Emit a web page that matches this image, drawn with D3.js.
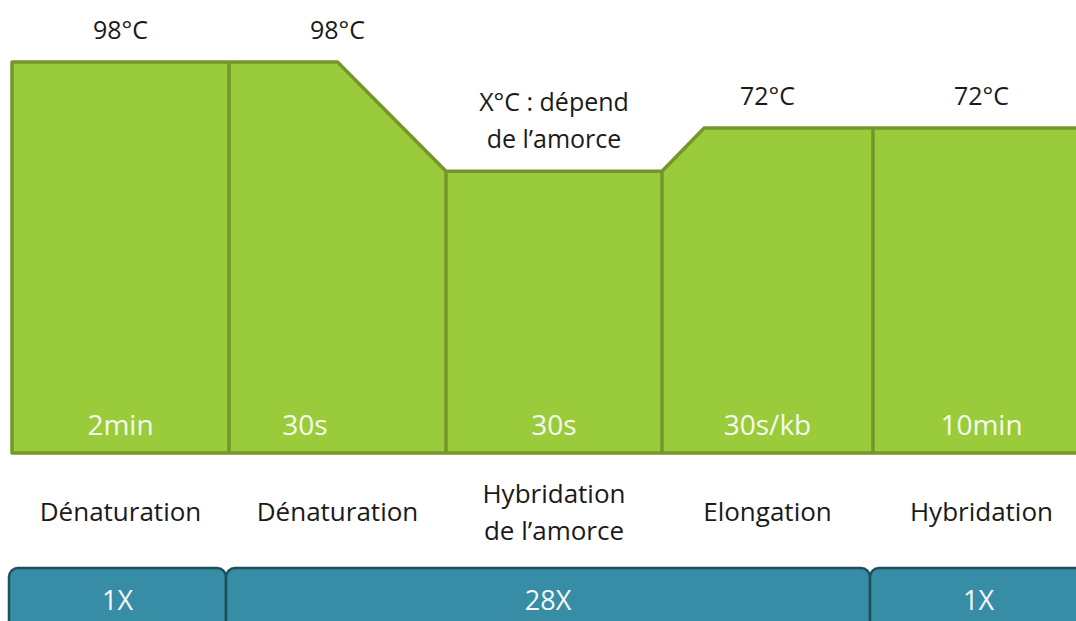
<!DOCTYPE html>
<html>
<head>
<meta charset="utf-8">
<script src="https://cdn.jsdelivr.net/npm/d3@7"></script>
<style>
  body { margin: 0; background: #fff; overflow: hidden; }
  svg text { font-family: "Open Sans", sans-serif; }
</style>
</head>
<body>
<div id="pcr"></div>
<script>
// steps of the PCR program
var temps = ["98°C", "98°C", "X°C : dépend|de l’amorce", "72°C", "72°C"];
var durations = ["2min", "30s", "30s", "30s/kb", "10min"];
var steps = ["Dénaturation", "Dénaturation", "Hybridation|de l’amorce", "Elongation", "Hybridation"];
var tempValues = [98, 98, 55, 72, 72];
// temperature profile: [step position, °C]
var profile = [[0, 98], [1.5, 98], [2, 55], [3, 55], [3.2, 72], [5, 72]];
// cycle groups: [from step, to step, label]
var cycles = [[0, 1, "1X"], [1, 4, "28X"], [4, 5, "1X"]];

var width = 1076, height = 621;

var svg = d3.select("#pcr")
  .append("svg")
    .attr("width", width)
    .attr("height", height);

// set the ranges (step boundaries)
var x = d3.scaleLinear().domain([0, 1, 2, 3, 4, 5]).range([12, 229, 446, 662, 873, 1090]);
var y = d3.scaleLinear().domain([72, 98]).range([128, 62]);
var floor = 453;

// green area under the profile
var area = d3.area()
    .x(function(d) { return x(d[0]); })
    .y0(floor)
    .y1(function(d) { return y(d[1]); });

svg.append("path")
    .datum(profile)
    .attr("d", area)
    .attr("fill", "#9acb3b")
    .attr("stroke", "#76962b")
    .attr("stroke-width", 3.5)
    .attr("stroke-linejoin", "round");

// dividers between the steps
function topAt(p) {
  for (var i = 1; i < profile.length; i++) {
    if (p <= profile[i][0]) {
      var a = profile[i - 1], b = profile[i];
      return a[1] + (b[1] - a[1]) * (p - a[0]) / (b[0] - a[0]);
    }
  }
  return profile[profile.length - 1][1];
}
svg.selectAll(".div")
  .data([1, 2, 3, 4])
  .enter().append("line")
    .attr("x1", function(d) { return x(d); })
    .attr("x2", function(d) { return x(d); })
    .attr("y1", function(d) { return y(topAt(d)); })
    .attr("y2", floor)
    .attr("stroke", "#76962b")
    .attr("stroke-width", 3.5);

// label position for each step
var tempX = [0.5, 1.5, 2.5, 3.5, 4.5];
var durX = [0.5, 1.35, 2.5, 3.5, 4.5];

// temperatures above the curve
temps.forEach(function(t, i) {
  var lines = t.split("|");
  var top = y(tempValues[i]) - 23 - (lines.length - 1) * 37;
  lines.forEach(function(l, j) {
    svg.append("text")
      .attr("x", x(tempX[i]))
      .attr("y", top + j * 37)
      .attr("text-anchor", "middle")
      .attr("font-size", 25)
      .attr("fill", "#1a1a1a")
      .text(l);
  });
});

// durations inside the area
durations.forEach(function(t, i) {
  svg.append("text")
    .attr("x", x(durX[i]))
    .attr("y", 435)
    .attr("text-anchor", "middle")
    .attr("font-size", 28)
    .attr("fill", "#f6faee")
    .text(t);
});

// step names
steps.forEach(function(t, i) {
  var lines = t.split("|");
  var top = 521 - (lines.length - 1) * 18.5;
  lines.forEach(function(l, j) {
    svg.append("text")
      .attr("x", x(tempX[i]))
      .attr("y", top + j * 37)
      .attr("text-anchor", "middle")
      .attr("font-size", 26)
      .attr("fill", "#1a1a1a")
      .text(l);
  });
});

// cycle bars
var g = svg.selectAll(".cycle")
  .data(cycles)
  .enter().append("g");

g.append("rect")
    .attr("x", function(d) { return x(d[0]) - 3; })
    .attr("y", 568)
    .attr("width", function(d) { return x(d[1]) - x(d[0]); })
    .attr("height", 80)
    .attr("rx", 9)
    .attr("fill", "#378da5")
    .attr("stroke", "#1e4f5d")
    .attr("stroke-width", 2.5);

g.append("text")
    .attr("x", function(d) { return (x(d[0]) + x(d[1])) / 2 - 3; })
    .attr("y", 610)
    .attr("text-anchor", "middle")
    .attr("font-size", 27)
    .attr("fill", "#f4f8fa")
    .text(function(d) { return d[2]; });
</script>
</body>
</html>
